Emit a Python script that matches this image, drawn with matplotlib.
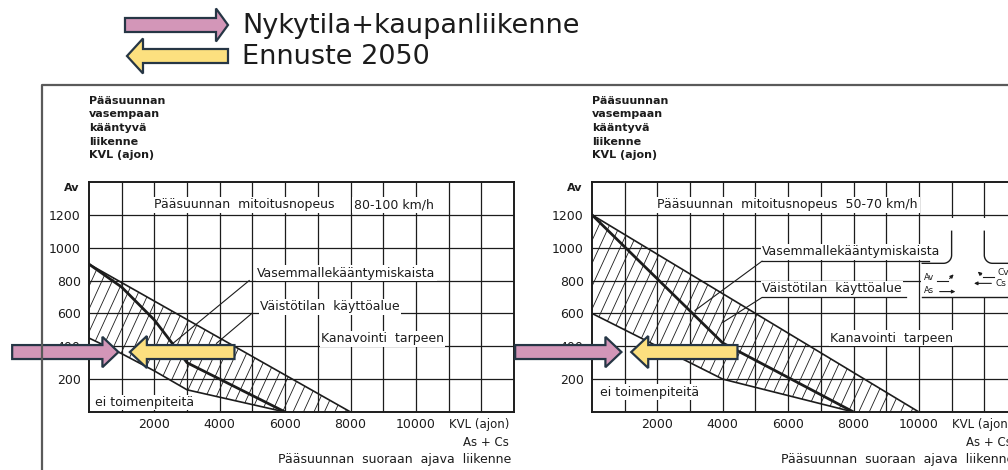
import matplotlib
matplotlib.use("Agg")
import matplotlib.pyplot as plt
import numpy as np
from matplotlib.patches import FancyArrow, Polygon, Rectangle
from matplotlib.lines import Line2D

# --- data ---
x_ticks = [2000, 4000, 6000, 8000, 10000]
y_ticks = [200, 400, 600, 800, 1000, 1200]

# left: Pääsuunnan mitoitusnopeus 80-100 km/h
l_upper_x = [0, 8000]
l_upper_y = [900, 0]
l_mid_x = [0, 1000, 2000, 3000, 6000]
l_mid_y = [900, 760, 560, 300, 0]
l_low_x = [0, 1000, 2000, 3000, 6000]
l_low_y = [450, 355, 250, 135, 0]

# right: Pääsuunnan mitoitusnopeus 50-70 km/h
r_upper_x = [0, 10000]
r_upper_y = [1200, 0]
r_mid_x = [0, 4000, 8000]
r_mid_y = [1200, 420, 0]
r_low_x = [0, 4000, 8000]
r_low_y = [600, 200, 0]

# arrows: traffic now / forecast 2050 (KVL, Av)
nykytila = [900, 900]
ennuste = [1250, 1200]
arrow_av = [365, 365]

PINK = "#D396B8"
YELLOW = "#FCE07F"
EDGE = "#263645"
INK = "#1c1c1c"
W, H = 1008, 470
FS = 9

fig = plt.figure(figsize=(W / 100, H / 100), dpi=100)
plt.rcParams["font.family"] = "DejaVu Sans"


def fx(px):
    return px / W


def fy(py):
    return 1 - py / H


def hatch(ax, ux, uy, lx, ly):
    xs = np.linspace(0, max(ux[-1], lx[-1]), 400)
    top = np.interp(xs, ux, uy)
    bot = np.interp(xs, lx, ly)
    verts = np.r_[np.c_[xs, top], np.c_[xs[::-1], bot[::-1]]]
    poly = Polygon(verts, closed=True, fill=False, lw=0)
    ax.add_patch(poly)
    for c in np.arange(-4000, 13000, 320):
        ln, = ax.plot([c, c + 1400 * 2.3], [0, 1400], color=INK, lw=0.6, zorder=3)
        ln.set_clip_path(poly)


def panel(left_px, ux, uy, mx, my, lx, ly, speed_texts, tip_now, tip_2050, av):
    ax = fig.add_axes([fx(left_px), fy(412), 425 / W, 230 / H])
    ax.set_xlim(0, 13000)
    ax.set_ylim(0, 1400)
    for s in ax.spines.values():
        s.set_color(INK)
        s.set_linewidth(1.4)
    ax.vlines(np.arange(1000, 13000, 1000), 0, 1400, color=INK, lw=0.9, zorder=1)
    ax.hlines(y_ticks, 0, 13000, color=INK, lw=0.9, zorder=1)
    ax.set_xticks(x_ticks)
    ax.set_yticks(y_ticks)
    ax.tick_params(length=0, labelsize=9, colors=INK)
    ax.tick_params(axis="x", pad=4)
    ax.tick_params(axis="y", pad=6)

    hatch(ax, ux, uy, lx, ly)
    ax.plot(ux, uy, color=INK, lw=1.2, zorder=4)
    ax.plot(lx, ly, color=INK, lw=1.2, zorder=4)
    ax.plot(mx, my, color=INK, lw=2.0, zorder=4)

    wb = dict(fc="white", ec="none", pad=1.2)
    for x, t in speed_texts:
        ax.text(x, 1222, t, fontsize=FS, va="bottom", ha="left", color=INK, bbox=wb, zorder=5)

    ax.text(0.0, 1.375, "Pääsuunnan\nvasempaan\nkääntyvä\nliikenne\nKVL (ajon)",
            transform=ax.transAxes, ha="left", va="top", fontsize=8,
            fontweight="bold", linespacing=1.45, color=INK)
    ax.text(-0.022, 0.975, "Av", transform=ax.transAxes, ha="right", va="center",
            fontsize=8, fontweight="bold", color=INK)
    ax.text(11000, -75, "KVL (ajon)", fontsize=8.5, va="center", ha="left", color=INK, clip_on=False)
    ax.text(11450, -185, "As + Cs", fontsize=8.5, va="center", ha="left", color=INK, clip_on=False)
    ax.text(5780, -290, "Pääsuunnan  suoraan  ajava  liikenne", fontsize=FS, va="center",
            ha="left", color=INK, clip_on=False)

    ax.add_patch(FancyArrow(-2350, av, tip_now + 2350, 0, width=85, head_width=185,
                            head_length=490, length_includes_head=True, fc=PINK,
                            ec=EDGE, lw=1.6, clip_on=False, zorder=10))
    ax.add_patch(FancyArrow(4450, av, tip_2050 - 4450, 0, width=85, head_width=195,
                            head_length=520, length_includes_head=True, fc=YELLOW,
                            ec=EDGE, lw=1.6, clip_on=False, zorder=10))
    return ax


# outer frame of the scanned sheet
fig.add_artist(Line2D([fx(42), fx(42), 1.0], [0, fy(85), fy(85)], color="#5a5a5a", lw=1.6))

# --- left panel ---
axl = panel(89, l_upper_x, l_upper_y, l_mid_x, l_mid_y, l_low_x, l_low_y,
            [(1980, "Pääsuunnan  mitoitusnopeus"), (8100, "80-100 km/h")],
            nykytila[0], ennuste[0], arrow_av[0])
wb = dict(fc="white", ec="none", pad=1.0)
axl.text(5150, 845, "Vasemmallekääntymiskaista", fontsize=FS, va="center", color=INK, bbox=wb, zorder=5)
axl.text(5230, 640, "Väistötilan  käyttöalue", fontsize=FS, va="center", color=INK, bbox=wb, zorder=5)
axl.text(7100, 445, "Kanavointi  tarpeen", fontsize=FS, va="center", color=INK, bbox=wb, zorder=5)
axl.text(180, 58, "ei toimenpiteitä", fontsize=FS, va="center", color=INK, bbox=wb, zorder=5)
axl.plot([4900, 2570], [800, 418], color=INK, lw=0.8, zorder=4)
axl.plot([4980, 3900], [600, 418], color=INK, lw=0.8, zorder=4)

# --- right panel ---
axr = panel(592, r_upper_x, r_upper_y, r_mid_x, r_mid_y, r_low_x, r_low_y,
            [(2000, "Pääsuunnan  mitoitusnopeus  50-70 km/h")],
            nykytila[1], ennuste[1], arrow_av[1])
# little junction sketch on the right
axr.add_patch(Rectangle((10060, 700), 3000, 480, fc="white", ec="none", zorder=2))
axr.text(5200, 975, "Vasemmallekääntymiskaista", fontsize=FS, va="center", color=INK, bbox=wb, zorder=5)
axr.text(5200, 750, "Väistötilan  käyttöalue", fontsize=FS, va="center", color=INK, bbox=wb, zorder=5)
axr.text(7280, 450, "Kanavointi  tarpeen", fontsize=FS, va="center", color=INK, bbox=wb, zorder=5)
axr.text(240, 120, "ei toimenpiteitä", fontsize=FS, va="center", color=INK, bbox=wb, zorder=5)
axr.plot([5200, 10300], [918, 918], color=INK, lw=0.9, zorder=5)
axr.plot([5200, 9600], [697, 697], color=INK, lw=0.9, zorder=5)
axr.plot([10100, 13000], [697, 697], color=INK, lw=1.0, zorder=5)
t = np.linspace(0, np.pi / 2, 20)
axr.plot(np.r_[10100, 10750 + 250 * np.sin(t), 11000],
         np.r_[905, 955 - 50 * np.cos(t), 1100], color=INK, lw=1.0, zorder=5)
axr.plot(np.r_[12000, 12000 + 250 * (1 - np.cos(t)), 13000],
         np.r_[1100, 955 - 50 * np.sin(t), 905], color=INK, lw=1.0, zorder=5)
axr.plot([5200, 3150], [918, 618], color=INK, lw=0.8, zorder=4)
axr.plot([5200, 4000], [697, 545], color=INK, lw=0.8, zorder=4)
axr.text(10150, 818, "Av", fontsize=6, va="center", color=INK, zorder=6)
axr.text(10150, 739, "As", fontsize=6, va="center", color=INK, zorder=6)
axr.text(12400, 848, "Cv", fontsize=6.5, va="center", color=INK, zorder=6, clip_on=False)
axr.text(12350, 782, "Cs", fontsize=6.5, va="center", color=INK, zorder=6, clip_on=False)
axr.plot([10550, 10900], [800, 800], color=INK, lw=0.8, zorder=6)
axr.annotate("", xy=(11120, 850), xytext=(10880, 800),
             arrowprops=dict(arrowstyle="-|>", color=INK, lw=0.8, mutation_scale=5), zorder=6)
axr.annotate("", xy=(11200, 733), xytext=(10550, 733),
             arrowprops=dict(arrowstyle="-|>", color=INK, lw=0.8, mutation_scale=5), zorder=6)
axr.plot([12300, 11950], [824, 824], color=INK, lw=0.8, zorder=6)
axr.annotate("", xy=(11740, 866), xytext=(11970, 824),
             arrowprops=dict(arrowstyle="-|>", color=INK, lw=0.8, mutation_scale=5), zorder=6)
axr.annotate("", xy=(11600, 783), xytext=(12300, 783),
             arrowprops=dict(arrowstyle="-|>", color=INK, lw=0.8, mutation_scale=5), zorder=6)

# --- legend arrows at top ---
fig.add_artist(FancyArrow(fx(125), fy(25), fx(228) - fx(125), 0, width=14 / H,
                          head_width=33 / H, head_length=12 / W, length_includes_head=True,
                          fc=PINK, ec=EDGE, lw=1.6, transform=fig.transFigure))
fig.add_artist(FancyArrow(fx(228), fy(56), fx(127) - fx(228), 0, width=14 / H,
                          head_width=35 / H, head_length=16 / W, length_includes_head=True,
                          fc=YELLOW, ec=EDGE, lw=1.6, transform=fig.transFigure))
fig.text(fx(242), fy(26), "Nykytila+kaupanliikenne", fontsize=19.5, va="center", color=INK)
fig.text(fx(242), fy(57), "Ennuste 2050", fontsize=19.5, va="center", color=INK)

fig.savefig("out.png", dpi=100)
